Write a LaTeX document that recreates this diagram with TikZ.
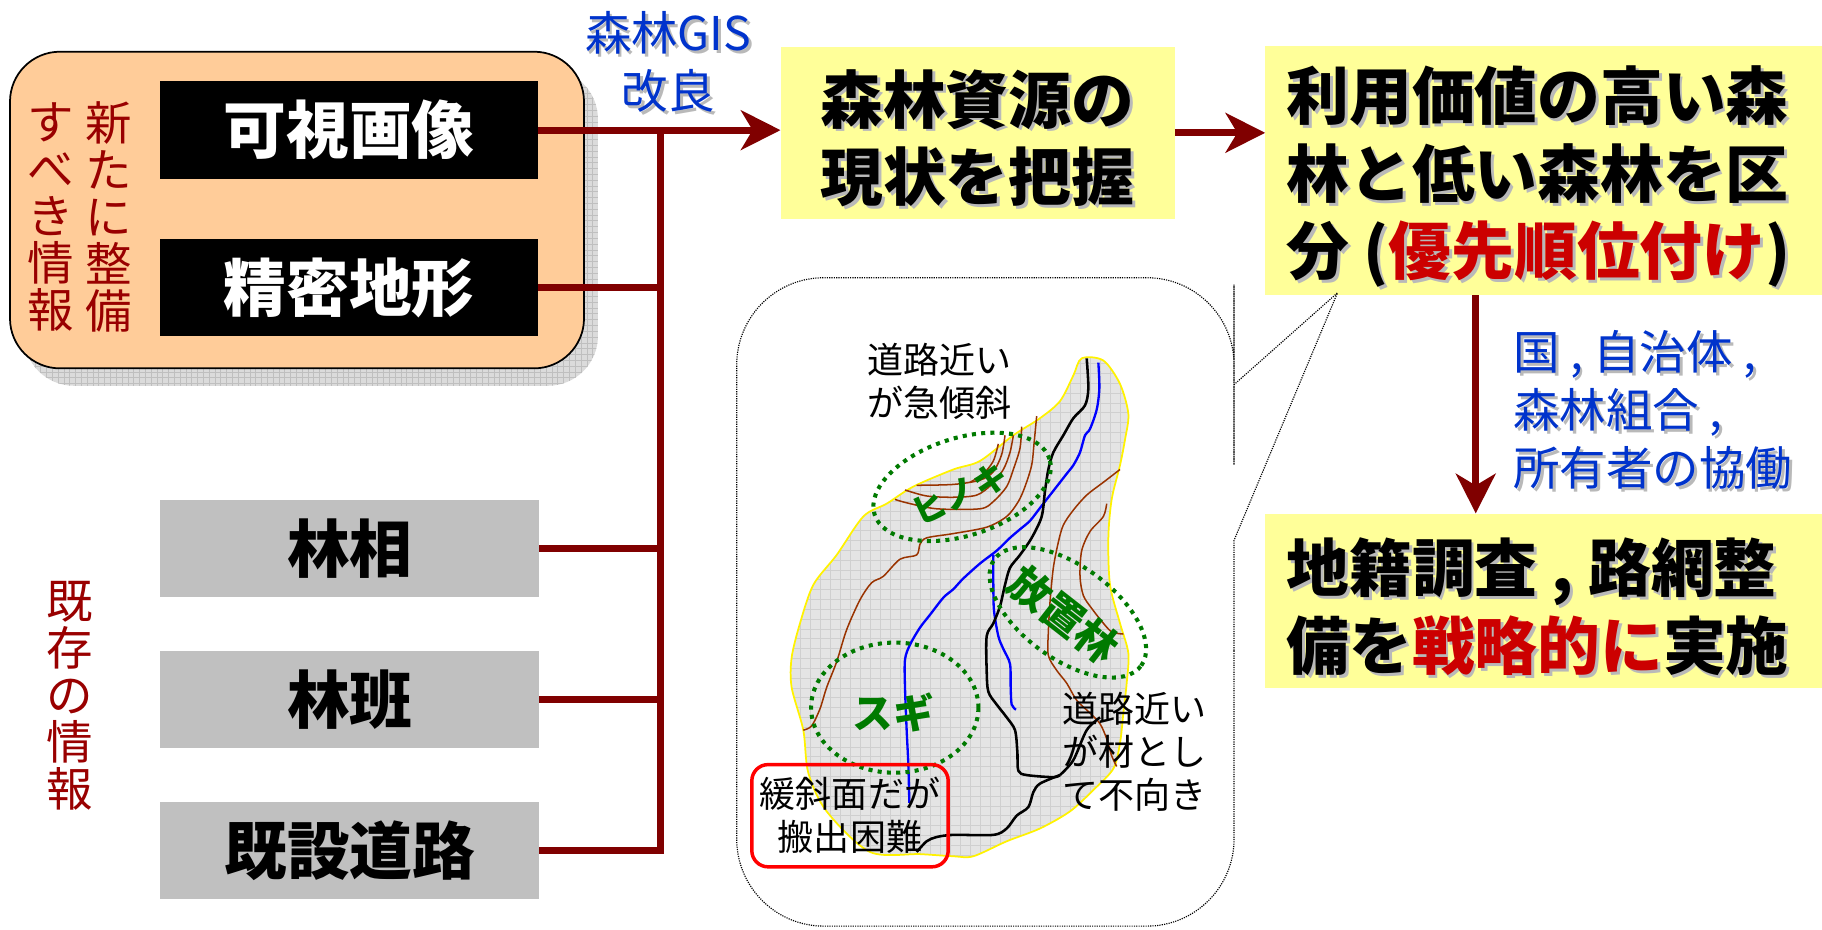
\documentclass[tikz,border=0pt]{standalone}
\usepackage{fontspec}
\setmainfont{Noto Sans CJK JP}
\usetikzlibrary{arrows.meta}
\definecolor{dred}{HTML}{800000}
\definecolor{vred}{HTML}{990000}
\definecolor{orangefill}{HTML}{FFCC99}
\definecolor{yel}{HTML}{FFFF99}
\definecolor{boxgray}{HTML}{C0C0C0}
\definecolor{tblue}{HTML}{0033CC}
\definecolor{ered}{HTML}{CC0000}
\definecolor{fgreen}{HTML}{007A00}
\definecolor{brownc}{HTML}{993300}
\definecolor{river}{HTML}{0000FF}
\definecolor{regionfill}{HTML}{E4E4E4}
\newif\ifshadow
\newcommand{\emred}[1]{\ifshadow#1\else\textcolor{ered}{#1}\fi}
\newcommand{\bigfont}{\fontsize{54}{67}\selectfont\bfseries}
\begin{document}
\begin{tikzpicture}[x=1pt,y=-1pt,
  conn/.style={draw=dred,line width=6pt},
  arr/.style={draw=dred,line width=6pt,-{Stealth[length=34pt,width=34pt,inset=10pt]}},
  blackbox/.style={fill=black,text=white,minimum width=325pt,minimum height=84pt,inner sep=0pt,font=\bigfont},
  graybox/.style={fill=boxgray,text=black,minimum width=326pt,minimum height=84pt,inner sep=0pt,font=\bigfont},
  yelbox/.style={fill=yel,inner sep=0pt},
  maintext/.style={font=\bigfont,inner sep=0pt},
  shadowtext/.style={text=gray!55,xshift=2.5pt,yshift=-2.5pt,execute at begin node=\shadowtrue},
  vtext/.style={text=vred,font=\fontsize{40}{40.5}\selectfont,align=center,inner sep=0pt},
  bluetext/.style={text=tblue,inner sep=0pt},
  mapnote/.style={font=\fontsize{31}{37}\selectfont,inner sep=0pt},
  greentext/.style={text=fgreen,font=\fontsize{#1}{#1}\selectfont\bfseries,inner sep=0pt},
  greenring/.style={draw=fgreen,line width=3.5pt,dash pattern=on 3.5pt off 4.5pt},
  contour/.style={draw=brownc,line width=1.3pt},
  riverline/.style={draw=river,line width=2pt},
  roadline/.style={draw=black,line width=2.2pt},
  calloutline/.style={draw=black,line width=1pt,densely dotted},
  gridline/.style={draw=gray!38,line width=0.45pt}
]
\useasboundingbox (0,0) rectangle (1568,800);

% ---------- orange box with shadow ----------
\begin{scope}
  \clip[rounded corners=43pt] (20.6,59.5) rectangle (514.6,332);
  \fill[gray!28] (0,40) rectangle (530,340);
  \foreach \gx in {0,5,...,530} \draw[gray!50,line width=0.5pt] (\gx,40) -- (\gx,340);
  \foreach \gy in {40,45,...,340} \draw[gray!50,line width=0.5pt] (0,\gy) -- (530,\gy);
\end{scope}
\node[fill=orangefill,draw=black,line width=1.5pt,rounded corners=43pt,minimum width=494pt,minimum height=272.5pt,inner sep=0pt] (newbox) at (255.6,180.75) {};
\node[vtext] (vnew1) at (93.5,187) {新\\た\\に\\整\\備};
\node[vtext] (vnew2) at (44,187) {す\\べ\\き\\情\\報};

% ---------- information boxes ----------
\node[blackbox] (kashi) at (300.5,112) {可視画像};
\node[blackbox] (seimitsu) at (300.5,247.5) {精密地形};
\node[graybox] (rinso) at (301,472) {林相};
\node[graybox] (rinpan) at (301,602) {林班};
\node[graybox] (douro) at (301,732) {既設道路};
\node[vtext] (vold) at (60,599) {既\\存\\の\\情\\報};

% ---------- yellow boxes ----------
\node[yelbox,minimum width=339pt,minimum height=148pt] (res) at (841.4,114.3) {};
\node[maintext,shadowtext,align=center] (ress) at (841,119) {森林資源の\\現状を把握};
\node[maintext,align=center] (rest) at (841,119) {森林資源の\\現状を把握};

\node[yelbox,minimum width=479pt,minimum height=214.4pt] (val) at (1328.5,146.8) {};
\node[maintext,shadowtext,align=left,anchor=west] (vals) at (1107,152) {利用価値の高い森\\林と低い森林を区\\分 (\emred{優先順位付け})};
\node[maintext,align=left,anchor=west] (valt) at (1107,152) {利用価値の高い森\\林と低い森林を区\\分 (\emred{優先順位付け})};

\node[yelbox,minimum width=479pt,minimum height=150pt] (act) at (1328.5,517) {};
\node[maintext,shadowtext,align=left,anchor=west] (acts) at (1107,522) {地籍調査 , 路網整\\備を\emred{戦略的に}実施};
\node[maintext,align=left,anchor=west] (actt) at (1107,522) {地籍調査 , 路網整\\備を\emred{戦略的に}実施};

% ---------- blue labels ----------
\node[bluetext,shadowtext,align=center,font=\fontsize{40}{50}\selectfont] (giss) at (575,53) {森林GIS\\改良};
\node[bluetext,align=center,font=\fontsize{40}{50}\selectfont] (gis) at (575,53) {森林GIS\\改良};
\node[bluetext,shadowtext,align=left,anchor=west,font=\fontsize{40}{50}\selectfont] (coops) at (1302,353) {国 , 自治体 ,\\森林組合 ,\\所有者の協働};
\node[bluetext,align=left,anchor=west,font=\fontsize{40}{50}\selectfont] (coop) at (1302,353) {国 , 自治体 ,\\森林組合 ,\\所有者の協働};

% ---------- connectors ----------
\coordinate (bus) at (568,0);
\coordinate (down) at (1270,0);
\draw[conn] (seimitsu.east) -- (seimitsu.east -| bus);
\draw[conn] (rinso.east) -- (rinso.east -| bus);
\draw[conn] (rinpan.east) -- (rinpan.east -| bus);
\draw[conn] (douro.east) -- (douro.east -| bus) -- (kashi.east -| bus);
\draw[arr] (kashi.east) -- (kashi.east -| res.west);
\draw[arr] (res.east) -- (res.east -| val.west);
\draw[arr] (val.south -| down) -- (act.north -| down);

% ---------- callout ----------
\coordinate (tailtip) at (1151,252);
\draw[calloutline] (1062,560) [rounded corners=75pt] -- (1062,797) -- (634,797) -- (634,239) -- (1062,239) -- (1062,320) -- (1062,325) [sharp corners] -- (1062,331) -- (tailtip) -- (1062,465) -- cycle;

% ---------- map (drawn in the frame of a zoomed crop) ----------
\begin{scope}[shift={(619.6,223.8)},xscale=0.2869,yscale=0.3678]
  \begin{scope}
    \clip plot[smooth cycle,tension=0.5] coordinates {(1085,230) (1150,235) (1200,290) (1225,360) (1215,420) (1200,480) (1175,560) (1165,650) (1170,760) (1200,850) (1225,920) (1220,990) (1210,1060) (1200,1130) (1180,1190) (1120,1240) (1050,1290) (960,1330) (860,1360) (760,1395) (700,1395) (600,1390) (450,1385) (320,1290) (265,1200) (250,1100) (215,1000) (215,930) (240,850) (280,760) (350,690) (430,600) (500,570) (580,530) (700,490) (780,470) (880,410) (960,370) (1020,330) (1060,270)};
    \fill[regionfill] (150,150) rectangle (1300,1450);
    \foreach \gx in {150,180,...,1300} \draw[gridline] (\gx,150) -- (\gx,1450);
    \foreach \gy in {150,173,...,1450} \draw[gridline] (150,\gy) -- (1300,\gy);
  \end{scope}
  \draw[yellow,line width=1.5pt] plot[smooth cycle,tension=0.5] coordinates {(1085,230) (1150,235) (1200,290) (1225,360) (1215,420) (1200,480) (1175,560) (1165,650) (1170,760) (1200,850) (1225,920) (1220,990) (1210,1060) (1200,1130) (1180,1190) (1120,1240) (1050,1290) (960,1330) (860,1360) (760,1395) (700,1395) (600,1390) (450,1385) (320,1290) (265,1200) (250,1100) (215,1000) (215,930) (240,850) (280,760) (350,690) (430,600) (500,570) (580,530) (700,490) (780,470) (880,410) (960,370) (1020,330) (1060,270)};
  % contour lines
  \draw[contour] plot[smooth,tension=0.5] coordinates {(1200,490) (1150,520) (1100,550) (1060,585) (1030,620) (1015,660) (1000,720) (990,800) (985,870) (985,925) (1010,960) (1040,990) (1070,1030) (1110,1060) (1140,1085) (1160,1120) (1175,1160) (1190,1185)};
  \draw[contour] plot[smooth,tension=0.5] coordinates {(1160,570) (1150,600) (1110,635) (1085,680) (1080,740) (1090,785) (1115,815) (1145,845) (1175,870) (1210,875)};
  \draw[contour] plot[smooth,tension=0.5] coordinates {(950,365) (942,430) (935,480) (915,530) (895,565) (860,600) (800,625) (700,640) (620,650) (600,665) (590,690) (540,700) (490,740) (455,755) (420,795) (380,865) (350,940) (320,1000) (300,1050) (275,1090) (250,1100)};
  \draw[contour] plot[smooth,tension=0.5] coordinates {(905,390) (900,440) (880,490) (860,530) (820,565) (780,582) (650,582) (560,568) (525,560)};
  \draw[contour] plot[smooth,tension=0.5] coordinates {(880,410) (870,450) (850,490) (815,525) (770,550) (700,555) (620,552) (555,538)};
  \draw[contour] plot[smooth,tension=0.5] coordinates {(855,410) (845,455) (820,495) (780,515) (700,525) (590,527)};
  \draw[contour] plot[smooth,tension=0.5] coordinates {(835,430) (820,470) (790,500) (750,520)};
  % rivers
  \draw[riverline] plot[smooth,tension=0.5] coordinates {(1135,240) (1138,300) (1130,350) (1110,395) (1095,410) (1080,450) (1060,480) (1040,500) (1020,520) (990,550) (960,580) (930,610) (900,630) (870,650) (830,680) (780,710) (730,745) (700,770) (670,790) (630,830) (600,860) (570,900) (555,935) (555,1000) (560,1100) (565,1180) (568,1270)};
  \draw[riverline] plot[smooth,tension=0.5] coordinates {(820,690) (820,760) (822,820) (835,880) (850,910) (870,945) (872,1000) (875,1040) (888,1052)};
  % roads
  \draw[roadline] plot[smooth,tension=0.5] coordinates {(1100,230) (1105,300) (1095,340) (1060,370) (1030,410) (1000,450) (985,490) (975,540) (965,600) (935,650) (900,690) (870,720) (855,760) (840,810) (820,850) (800,880) (800,960) (805,1010) (830,1040) (860,1070) (885,1100) (892,1150) (895,1195) (920,1205) (1000,1210) (1020,1205)};
  \draw[roadline] plot[smooth,tension=0.5] coordinates {(1020,1205) (960,1225) (940,1245) (925,1280) (890,1300) (860,1330) (820,1345) (700,1345) (650,1350) (620,1360) (590,1385)};
  \draw[roadline] plot[smooth,tension=0.5] coordinates {(1020,1205) (1060,1170) (1100,1100) (1140,1070)};
\end{scope}

% ---------- forest type rings ----------
\coordinate (hc) at (828,419);
\coordinate (hoc) at (919,527);
\coordinate (sc) at (770,609);
\draw[greenring,rotate around={17.6:(hc)}] (hc) ellipse [x radius=79pt,y radius=42pt];
\draw[greenring,rotate around={-36:(hoc)}] (hoc) ellipse [x radius=78pt,y radius=40pt];
\draw[greenring] (sc) ellipse [x radius=72pt,y radius=56pt];
\node[greentext=29,rotate=25] (hinoki) at (826,425) {ヒノキ};
\node[greentext=36,rotate=-38] (houchi) at (915.7,529) {放置林};
\node[greentext=35] (sugi) at (769,613) {スギ};

% ---------- map notes ----------
\node[mapnote,align=left,anchor=west] (steep) at (746,328) {道路近い\\が急傾斜};
\node[mapnote,align=left,anchor=west] (unfit) at (914,647) {道路近い\\が材とし\\て不向き};
\node[mapnote,align=center,draw=red,line width=3pt,rounded corners=14pt,minimum width=169pt,minimum height=88pt] (hard) at (731.5,702) {緩斜面だが\\搬出困難};
\end{tikzpicture}
\end{document}
